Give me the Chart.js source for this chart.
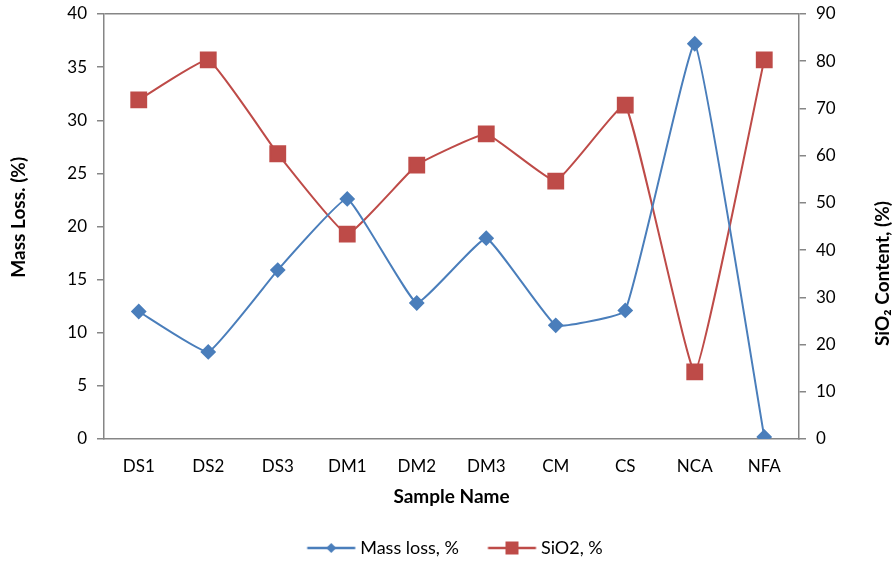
<!DOCTYPE html>
<html>
<head>
<meta charset="utf-8">
<script src="https://cdn.jsdelivr.net/npm/chart.js@4.4.0/dist/chart.umd.min.js"></script>
<style>
  html, body { margin: 0; padding: 0; background: #fff; }
  #wrap { width: 893px; height: 562px; position: relative; }
</style>
</head>
<body>
<div id="wrap"><canvas id="c" width="893" height="562"></canvas></div>
<script>
// Sample names along the x axis
const samples = ['DS1', 'DS2', 'DS3', 'DM1', 'DM2', 'DM3', 'CM', 'CS', 'NCA', 'NFA'];
// Mass loss (%) – left axis
const massLoss = [12.0, 8.2, 15.9, 22.6, 12.8, 18.9, 10.7, 12.1, 37.2, 0.2];
// SiO2 content (%) – right axis
const sio2 = [71.8, 80.3, 60.4, 43.4, 58.0, 64.6, 54.6, 70.7, 14.2, 80.3];
// Axis tick settings
const leftTicks = { min: 0, max: 40, step: 5 };
const rightTicks = { min: 0, max: 90, step: 10 };
const rightTitle = 'SiO₂ Content, (%)';

const BLUE = '#4a7ebb';
const RED = '#be4b48';
const AXIS = '#868686';
const FONT = 'Lato, "Liberation Sans", sans-serif';
const TITLE_SIZE = 19;

// Prefix a title with spaces so that its visible text is pushed along the axis
function padTitle(text, shiftPx) {
  const g = document.createElement('canvas').getContext('2d');
  g.font = 'bold ' + TITLE_SIZE + 'px ' + FONT;
  const sp = g.measureText(' ').width || 4;
  return ' '.repeat(Math.round(shiftPx / sp)) + text;
}

// Legend swatch: a short line with the series marker, placed right of the image centre
function swatch(color, shape) {
  const c = document.createElement('canvas');
  c.width = 80; c.height = 16;
  const g = c.getContext('2d');
  const x0 = 26.5, x1 = 74.5, mid = (x0 + x1) / 2;
  g.strokeStyle = color; g.lineWidth = 2.5;
  g.beginPath(); g.moveTo(x0, 8); g.lineTo(x1, 8); g.stroke();
  g.fillStyle = color;
  g.beginPath();
  if (shape === 'diamond') {
    g.moveTo(mid, 3); g.lineTo(mid + 5, 8); g.lineTo(mid, 13); g.lineTo(mid - 5, 8);
  } else {
    g.rect(mid - 6.5, 1.5, 13, 13);
  }
  g.closePath(); g.fill();
  return c;
}

// Vertical axes: keep the plot area top fixed regardless of tick label padding
function fixVertical(width) {
  return (s) => { s.width = width; s.paddingTop = 0; s.paddingBottom = 0; };
}

// Right axis title, written bottom-to-top like the left one
const rightTitlePlugin = {
  id: 'rightTitle',
  afterDraw(chart) {
    const s = chart.scales.y1;
    const ctx = chart.ctx;
    ctx.save();
    ctx.translate(s.right - 4, (s.top + s.bottom) / 2 + 47);
    ctx.rotate(-Math.PI / 2);
    ctx.font = 'bold ' + TITLE_SIZE + 'px ' + FONT;
    ctx.fillStyle = '#000';
    ctx.textAlign = 'center';
    ctx.textBaseline = 'alphabetic';
    ctx.fillText(rightTitle, 0, 0);
    ctx.restore();
  }
};

new Chart(document.getElementById('c'), {
  type: 'line',
  data: {
    labels: samples,
    datasets: [
      {
        label: 'Mass loss, %',
        data: massLoss,
        yAxisID: 'y',
        borderColor: BLUE,
        backgroundColor: BLUE,
        borderWidth: 2,
        tension: 0.1,
        pointStyle: 'rectRot',
        pointRadius: 6.5,
        pointHoverRadius: 6.5,
        legendSwatch: swatch(BLUE, 'diamond')
      },
      {
        label: 'SiO2, %',
        data: sio2,
        yAxisID: 'y1',
        borderColor: RED,
        backgroundColor: RED,
        borderWidth: 2,
        tension: 0.1,
        pointStyle: 'rect',
        pointRadius: 10.5,
        pointHoverRadius: 10.5,
        legendSwatch: swatch(RED, 'square')
      }
    ]
  },
  options: {
    responsive: false,
    animation: false,
    layout: { padding: { top: 14, left: 0, right: 0, bottom: 0 } },
    plugins: {
      tooltip: { enabled: false },
      legend: {
        position: 'bottom',
        maxHeight: 35,
        labels: {
          usePointStyle: true,
          pointStyleWidth: 61,
          padding: 12,
          color: '#000',
          font: { family: FONT, size: 18 },
          generateLabels(chart) {
            return chart.data.datasets.map((ds, i) => ({
              text: ds.label,
              pointStyle: ds.legendSwatch,
              fillStyle: ds.borderColor,
              strokeStyle: ds.borderColor,
              lineWidth: 0,
              hidden: false,
              datasetIndex: i,
              fontColor: '#000'
            }));
          }
        }
      }
    },
    scales: {
      x: {
        offset: true,
        grid: { display: true, color: 'rgba(0,0,0,0)', drawTicks: false, offset: true },
        border: { display: true, color: AXIS, width: 1.5 },
        ticks: { color: '#000', font: { family: FONT, size: 17 }, padding: 17, maxRotation: 0 },
        title: {
          display: true, text: 'Sample Name', color: '#000',
          font: { family: FONT, size: TITLE_SIZE, weight: 'bold' }, padding: { top: 0, bottom: 18.5 }
        },
        afterFit(s) { s.height = 88; }
      },
      y: {
        position: 'left',
        min: leftTicks.min, max: leftTicks.max,
        ticks: { stepSize: leftTicks.step, color: '#000', font: { family: FONT, size: 17 }, padding: 10 },
        grid: {
          color: (ctx) => (ctx.tick && ctx.tick.value === leftTicks.max ? AXIS : 'rgba(0,0,0,0)'),
          tickColor: AXIS, tickLength: 7, lineWidth: 1.5
        },
        border: { display: true, color: AXIS, width: 1.5 },
        title: {
          display: true, text: padTitle('Mass Loss. (%)', 20), color: '#000',
          font: { family: FONT, size: TITLE_SIZE, weight: 'bold' }, padding: { top: 7, bottom: 0 }
        },
        afterFit: fixVertical(104)
      },
      y1: {
        position: 'right',
        min: rightTicks.min, max: rightTicks.max,
        ticks: { stepSize: rightTicks.step, color: '#000', font: { family: FONT, size: 17 }, padding: 10 },
        grid: { drawOnChartArea: false, color: AXIS, tickColor: AXIS, tickLength: 7, lineWidth: 1.5 },
        border: { display: true, color: AXIS, width: 1.5 },
        title: { display: false },
        afterFit: fixVertical(94)
      }
    }
  },
  plugins: [rightTitlePlugin]
});
</script>
</body>
</html>
